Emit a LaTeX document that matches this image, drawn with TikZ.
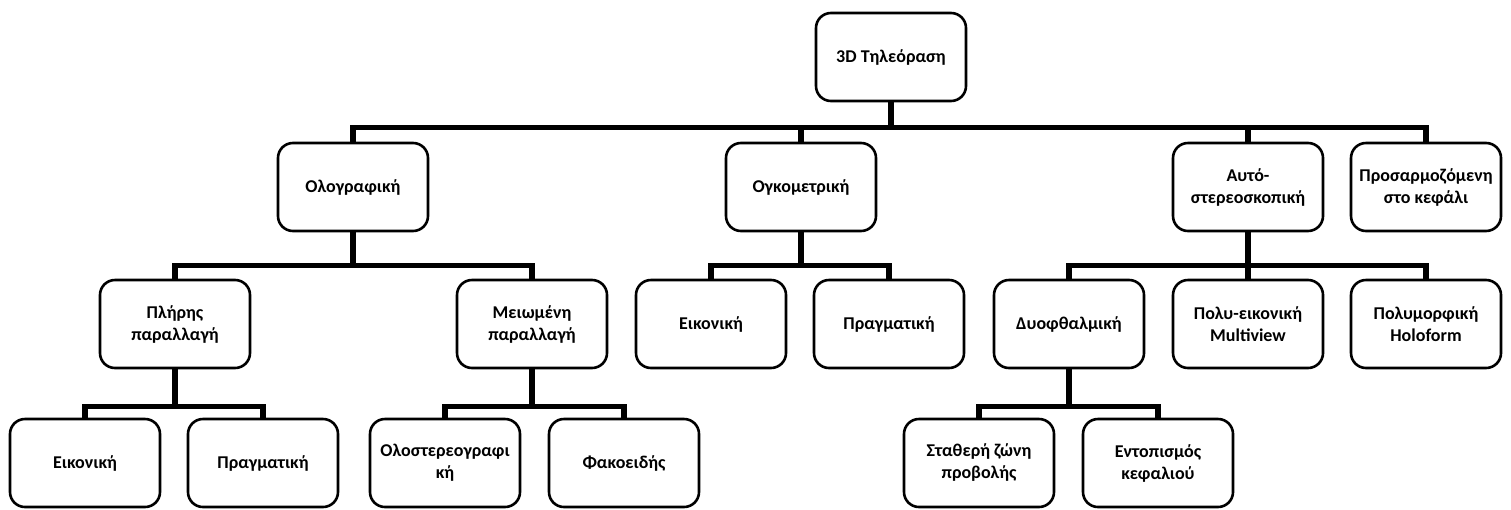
\documentclass[tikz,border=0pt]{standalone}
\usepackage{fontspec}
\setmainfont{Carlito}
\begin{document}
\begin{tikzpicture}[x=1pt,y=-1pt,
  box/.style={draw,line width=2.6pt,rounded corners=15pt,fill=white,
    minimum width=150pt,minimum height=88pt,align=center,
    font=\fontsize{18}{22}\selectfont\bfseries,inner sep=2pt},
  conn/.style={line width=5.5pt}]
\useasboundingbox (0,0) rectangle (1511,509);
% root
\node[box] (root) at (891,57) {3D Τηλεόραση};
% first level
\node[box] (holo) at (353,187) {Ολογραφική};
\node[box] (vol)  at (801,187) {Ογκομετρική};
\node[box] (auto) at (1248,187) {Αυτό-\\στερεοσκοπική};
\node[box] (head) at (1426,187) {Προσαρμοζόμενη\\στο κεφάλι};
% second level
\node[box] (full)  at (175,324) {Πλήρης\\παραλλαγή};
\node[box] (red)   at (532,324) {Μειωμένη\\παραλλαγή};
\node[box] (vicon) at (711,324) {Εικονική};
\node[box] (vreal) at (889,324) {Πραγματική};
\node[box] (bino)  at (1069,324) {Δυοφθαλμική};
\node[box] (multi) at (1248,324) {Πολυ-εικονική\\Multiview};
\node[box] (form)  at (1426,324) {Πολυμορφική\\Holoform};
% third level
\node[box] (ficon) at (85,463) {Εικονική};
\node[box] (freal) at (263,463) {Πραγματική};
\node[box] (hst)   at (445,463) {Ολοστερεογραφι\\κή};
\node[box] (lens)  at (624,463) {Φακοειδής};
\node[box] (fixz)  at (979,463) {Σταθερή ζώνη\\προβολής};
\node[box] (track) at (1158,463) {Εντοπισμός\\κεφαλιού};
% connectors
\foreach \c in {holo,vol,auto,head}
  \draw[conn] (root.south) -- ++(0,25) -| (\c.north);
\foreach \c in {full,red}
  \draw[conn] (holo.south) -- ++(0,33) -| (\c.north);
\foreach \c in {vicon,vreal}
  \draw[conn] (vol.south) -- ++(0,33) -| (\c.north);
\foreach \c in {bino,multi,form}
  \draw[conn] (auto.south) -- ++(0,33) -| (\c.north);
\foreach \c in {ficon,freal}
  \draw[conn] (full.south) -- ++(0,37) -| (\c.north);
\foreach \c in {hst,lens}
  \draw[conn] (red.south) -- ++(0,37) -| (\c.north);
\foreach \c in {fixz,track}
  \draw[conn] (bino.south) -- ++(0,37) -| (\c.north);
\end{tikzpicture}
\end{document}
